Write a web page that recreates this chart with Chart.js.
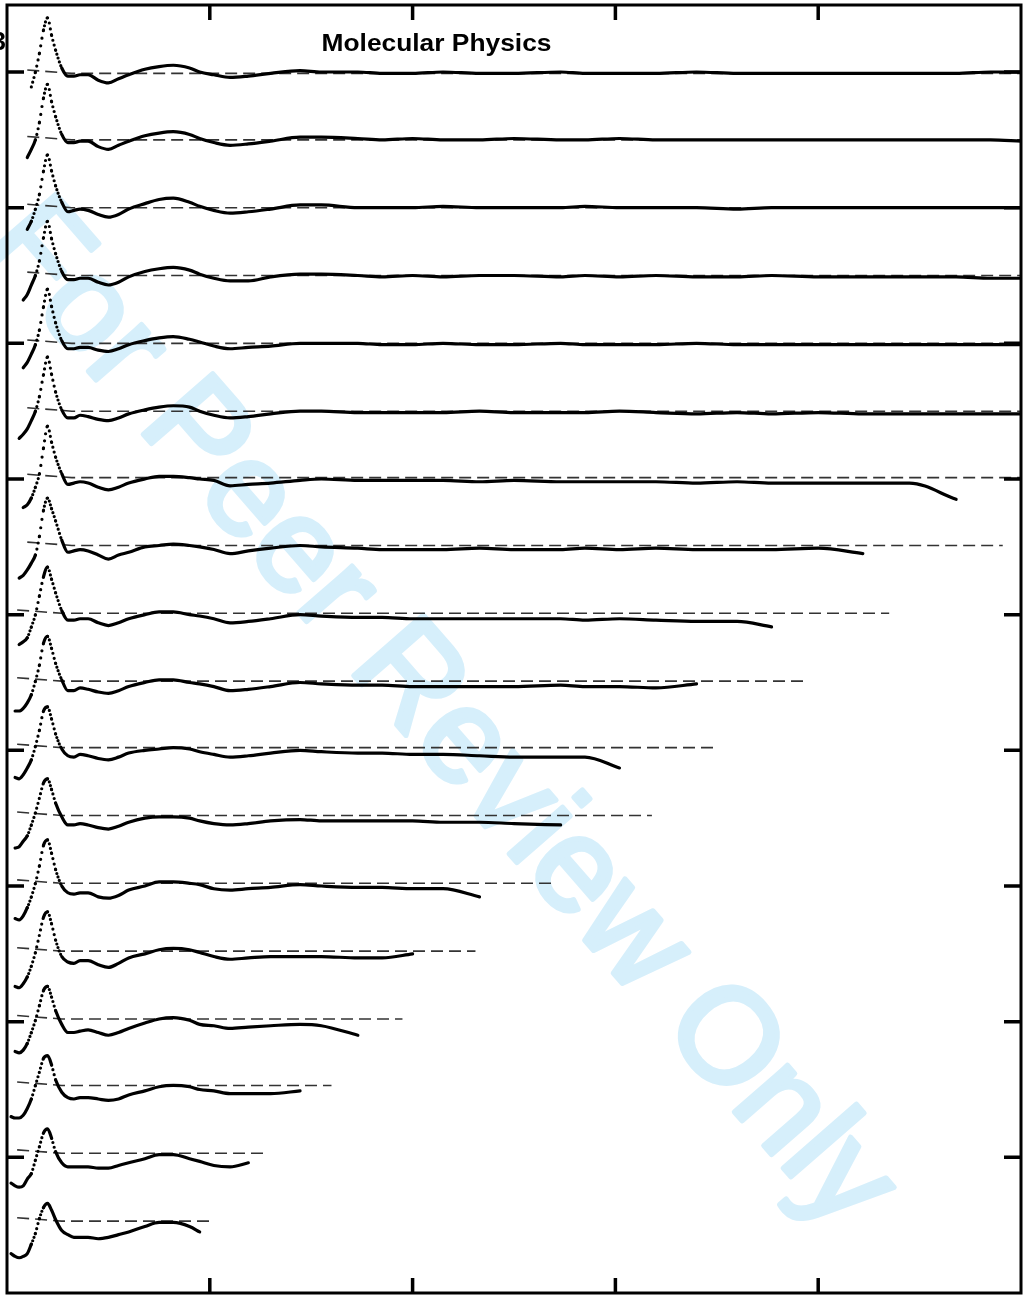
<!DOCTYPE html>
<html>
<head>
<meta charset="utf-8">
<script src="https://cdn.jsdelivr.net/npm/chart.js"></script>
<style>
  html, body { margin: 0; padding: 0; background: #fff; }
  #wrap { width: 1024px; height: 1298px; position: relative; }
</style>
</head>
<body>
<div id="wrap"><canvas id="chart-gr"></canvas></div>
<script>
const rGrid = [0.02, 0.04, 0.06, 0.08, 0.10, 0.12, 0.14, 0.16, 0.18, 0.20,
               0.22, 0.24, 0.27, 0.30, 0.33, 0.36, 0.40, 0.45, 0.50, 0.55,
               0.60, 0.68, 0.75, 0.82, 0.90, 0.95, 1.02, 1.10, 1.19, 1.30,
               1.445, 1.55, 1.73, 1.85, 2.0, 2.15, 2.33, 2.5, 2.73, 2.85,
               3.02, 3.2, 3.40, 3.6, 3.77, 4.0, 4.22, 4.45, 4.68, 4.85, 5.0];

// vertical offset (baseline) of each curve, top to bottom
const curveOffsets = [899, 850, 800, 750, 700, 650, 601, 551, 501, 451, 402, 352, 302, 252, 202, 153, 103, 53];

// deviation from the baseline at each rGrid point (null = curve not started yet)
const curve01 = [null,null,null,null,null,-10,1,15,32,41,28,17,4,-2,-2,-1,-1,-5,-7,-4,-1,3,5,6,4,1,-1,-3,-2,0,2,1,1,0,0,1,0,0,1,0,0,0,1,0,0,0,0,0,0,1,1];
const curve02 = [null,null,null,null,-13,-7,0,13,31,41,28,17,4,-2,-2,-1,-1,-5,-7,-4,-1,3,5,6,4,1,-2,-4,-3,-1,2,2,1,0,1,0,0,1,0,0,1,0,0,0,0,0,0,0,0,0,-1];
const curve03 = [null,null,null,null,-16,-10,-1,10,27,39,27,16,4,-3,-2,-1,-2,-5,-7,-5,-1,3,6,7,4,1,-2,-4,-3,-1,2,2,0,0,0,1,0,0,0,1,0,0,0,-1,0,0,0,0,0,0,0];
const curve04 = [null,null,null,-18,-14,-7,0,11,28,40,27,16,3,-3,-3,-2,-2,-5,-7,-5,-1,3,5,6,4,1,-2,-4,-4,-1,1,1,0,-1,0,-1,0,0,-1,0,-1,0,-1,-1,0,-1,-1,-1,-1,-2,-2];
const curve05 = [null,null,null,-18,-14,-8,-1,10,27,40,27,15,2,-4,-4,-3,-3,-5,-6,-4,-1,2,4,5,3,1,-2,-4,-3,-2,0,0,0,-1,-1,0,-1,-1,0,-1,-1,-1,0,-1,-1,-1,-1,-1,-1,-1,-1];
const curve06 = [null,null,-20,-17,-13,-7,0,11,27,40,27,14,1,-5,-5,-3,-4,-6,-7,-5,-2,1,3,4,3,0,-3,-5,-4,-2,0,0,-1,-1,-1,-1,0,-1,-1,-1,0,-1,-2,-1,-2,-1,-2,-2,-2,-2,-2];
const curve07 = [null,null,null,-22,-20,-15,-7,3,22,38,26,15,3,-5,-4,-3,-4,-7,-9,-7,-4,-1,1,1,0,-1,-2,-6,-5,-4,-2,-1,-2,-2,-2,-2,-3,-2,-3,-3,-3,-3,-4,-3,-4,-4,-4,-4,-16];
const curve08 = [null,null,-24,-22,-18,-13,-7,7,26,35,27,18,4,-5,-4,-3,-4,-7,-10,-7,-5,-1,0,1,0,-1,-3,-6,-4,-2,0,-1,-2,-3,-3,-3,-2,-3,-3,-2,-3,-2,-3,-3,-3,-2,-6];
const curve09 = [null,null,-23,-21,-18,-10,-1,13,27,34,25,15,2,-5,-5,-4,-4,-7,-9,-7,-4,-1,1,1,-1,-2,-4,-7,-6,-4,-1,-2,-3,-3,-4,-4,-4,-4,-4,-5,-4,-5,-6,-6,-10];
const curve10 = [null,-22,-22,-20,-16,-10,0,12,28,33,24,13,1,-7,-7,-5,-6,-8,-9,-7,-4,-1,1,1,-1,-2,-4,-7,-6,-4,-1,-2,-3,-3,-4,-4,-4,-4,-3,-4,-4,-5,-2];
const curve11 = [null,-22,-23,-20,-15,-9,1,13,27,30,21,10,-1,-6,-7,-5,-6,-8,-9,-7,-4,-2,-1,0,-1,-3,-5,-7,-6,-4,-2,-3,-4,-4,-5,-5,-6,-7,-7,-7,-15];
const curve12 = [null,-24,-23,-19,-15,-7,2,13,24,27,19,9,-1,-7,-7,-6,-7,-9,-10,-8,-5,-2,-1,-1,-2,-4,-6,-7,-6,-4,-3,-4,-4,-4,-4,-5,-5,-6,-7];
const curve13 = [null,-26,-27,-24,-18,-10,0,13,28,32,22,10,-2,-7,-8,-7,-7,-10,-11,-9,-5,-2,1,1,0,-1,-4,-5,-4,-3,-1,-2,-3,-3,-4,-4,-10];
const curve14 = [null,-26,-27,-24,-19,-11,-1,12,25,29,20,8,-4,-8,-9,-7,-7,-10,-12,-9,-5,-2,1,2,1,-1,-4,-6,-5,-4,-4,-4,-5,-5,-2];
const curve15 = [null,-24,-25,-23,-18,-10,-1,10,21,24,16,6,-4,-10,-10,-9,-8,-10,-12,-10,-7,-3,0,1,-1,-4,-5,-7,-6,-5,-4,-5,-12];
const curve16 = [-23,-24,-24,-22,-17,-10,0,10,20,22,15,4,-5,-9,-10,-9,-9,-10,-11,-10,-7,-4,-1,0,-1,-3,-4,-6,-6,-6,-4];
const curve17 = [-22,-24,-25,-24,-19,-15,-5,5,15,18,11,1,-7,-10,-10,-10,-10,-11,-11,-9,-7,-4,-1,-1,-4,-6,-9,-10,-7];
const curve18 = [-24,-26,-27,-26,-24,-17,-9,2,10,13,8,1,-7,-10,-12,-12,-12,-13,-12,-10,-8,-4,-1,-1,-4,-8];

// where each dashed baseline starts and stops (in r)
const dashStart = [0.10, 0.10, 0.10, 0.10, 0.10, 0.10, 0.10, 0.10, 0.05, 0.05, 0.05, 0.05, 0.05, 0.05, 0.05, 0.05, 0.05, 0.05];
const dashEnd = [5, 5, 5, 5, 5, 5, 5, 4.91, 4.35, 3.95, 3.50, 3.18, 2.70, 2.31, 1.95, 1.60, 1.29, 1.00];

const xTicks = [1, 2, 3, 4];
const yTicks = [100, 200, 300, 400, 500, 600, 700, 800, 900];

const curves = [curve01, curve02, curve03, curve04, curve05, curve06, curve07, curve08, curve09,
                curve10, curve11, curve12, curve13, curve14, curve15, curve16, curve17, curve18];

// steep parts of the data show up as separate dots in the original
function dotPattern(ctx) {
    const dx = Math.abs(ctx.p1.x - ctx.p0.x);
    const dy = Math.abs(ctx.p1.y - ctx.p0.y);
    const step = 1.3 * Math.hypot(dx, dy) / Math.max(dx, 0.01);
    return step > 3.4 ? [0, step] : undefined;
}

const datasets = [];
curves.forEach(function(vals, i){
    const pts = [];
    vals.forEach(function(v, k){
        if (v !== null) pts.push({x: rGrid[k], y: curveOffsets[i] + v});
    });
    datasets.push({
        data: pts,
        borderColor: '#000',
        borderWidth: 3.2,
        pointRadius: 0,
        cubicInterpolationMode: 'monotone',
        borderCapStyle: 'round',
        borderJoinStyle: 'round',
        segment: { borderDash: dotPattern }
    });
});
curveOffsets.forEach(function(off, i){
    datasets.push({
        data: [{x: dashStart[i], y: off + 2.5}, {x: dashStart[i] + 0.22, y: off}, {x: dashEnd[i], y: off}],
        borderColor: '#333',
        borderWidth: 1.6,
        borderDash: [12, 6],
        pointRadius: 0,
        tension: 0
    });
});

const framePlugin = {
    id: 'frame',
    beforeDatasetsDraw(chart){
        const c = chart.ctx;
        c.save();
        c.translate(438, 716);
        c.rotate(48.9 * Math.PI / 180);
        c.fillStyle = '#d6effb';
        c.strokeStyle = '#d6effb';
        c.lineWidth = 5;
        c.lineJoin = 'round';
        c.font = '134px "Liberation Sans", Arial, sans-serif';
        c.textAlign = 'center';
        c.textBaseline = 'middle';
        c.fillText('For Peer Review Only', 0, 0);
        c.strokeText('For Peer Review Only', 0, 0);
        c.restore();
    },
    afterDraw(chart){
        const c = chart.ctx;
        const a = chart.chartArea;
        const sx = chart.scales.x, sy = chart.scales.y;
        c.save();
        c.strokeStyle = '#000';
        c.lineWidth = 3;
        c.strokeRect(a.left, a.top, a.right - a.left, a.bottom - a.top);
        c.lineWidth = 3.5;
        c.beginPath();
        xTicks.forEach(function(v){
            const px = sx.getPixelForValue(v);
            c.moveTo(px, a.top); c.lineTo(px, a.top + 15);
            c.moveTo(px, a.bottom); c.lineTo(px, a.bottom - 15);
        });
        yTicks.forEach(function(v){
            const py = sy.getPixelForValue(v);
            c.moveTo(a.left, py); c.lineTo(a.left + 17, py);
            c.moveTo(a.right, py); c.lineTo(a.right - 17, py);
        });
        c.stroke();

        // title, a bit wider than the plain font
        c.fillStyle = '#000';
        c.font = 'bold 23px "Liberation Sans", Arial, sans-serif';
        c.textBaseline = 'alphabetic';
        const w = c.measureText('Molecular Physics').width;
        c.save();
        c.translate(321.5, 50.5);
        c.scale(230 / w, 1);
        c.fillText('Molecular Physics', 0, 0);
        c.restore();

        // page number cut off at the left edge
        c.font = 'bold 25px "Liberation Sans", Arial, sans-serif';
        c.textAlign = 'right';
        c.fillText('3', 6, 50);
        c.restore();
    }
};

new Chart(document.getElementById('chart-gr'), {
    type: 'line',
    data: { datasets: datasets },
    options: {
        responsive: true,
        maintainAspectRatio: false,
        animation: false,
        events: [],
        layout: { padding: { left: 7, right: 3, top: 5, bottom: 5 } },
        plugins: { legend: { display: false }, tooltip: { enabled: false } },
        scales: {
            x: { type: 'linear', min: 0, max: 5, display: false },
            y: { type: 'linear', min: 0, max: 949.4, display: false }
        }
    },
    plugins: [framePlugin]
});
</script>
</body>
</html>
